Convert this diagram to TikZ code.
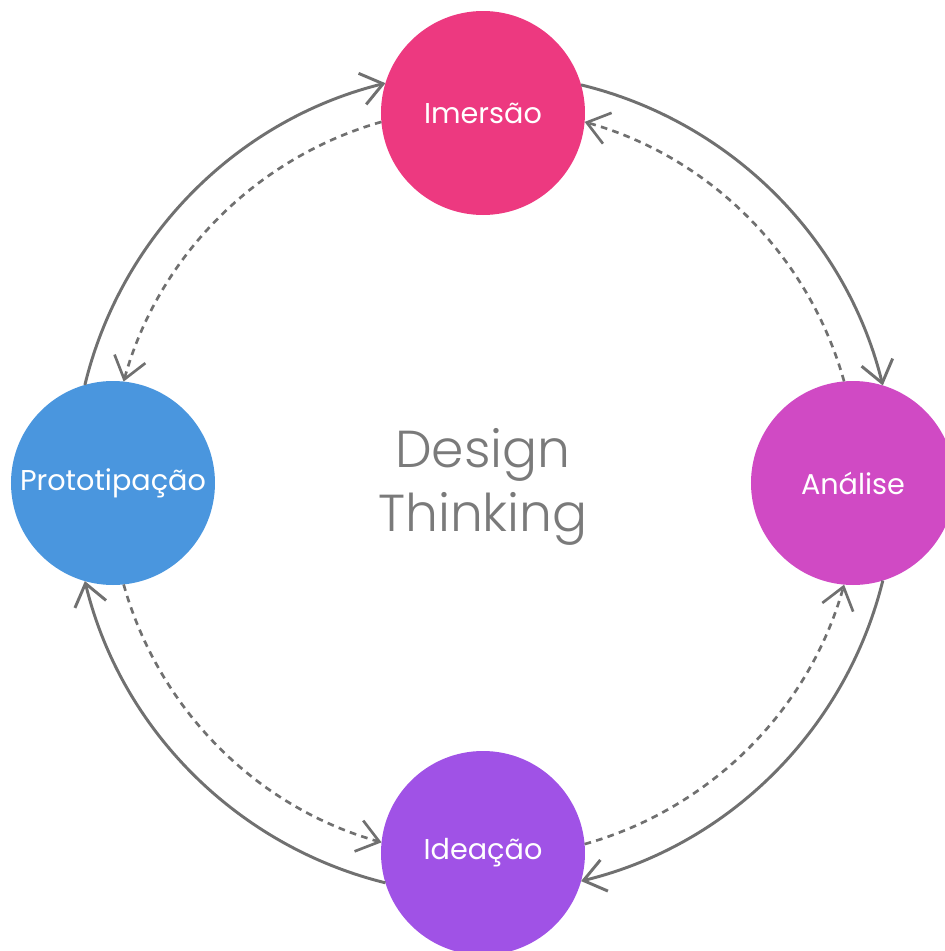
\documentclass[tikz,border=0pt]{standalone}
\usepackage{fontspec}
\setmainfont{Poppins}
\newfontfamily\thinfont{Poppins Light}
\usetikzlibrary{arrows.meta}

\definecolor{imcol}{HTML}{ED3980}
\definecolor{ancol}{HTML}{D04AC4}
\definecolor{idcol}{HTML}{A052E6}
\definecolor{prcol}{HTML}{4A96DE}
\definecolor{linecol}{HTML}{707070}
\definecolor{titlecol}{HTML}{7A7A7A}

\begin{document}
\begin{tikzpicture}[x=0.75pt,y=0.75pt,
  phase/.style={circle,fill=#1,draw=none,minimum size=153pt,inner sep=0pt,outer sep=0pt,
    text=white,font=\fontsize{21.5}{26}\selectfont},
  forward/.style={draw=linecol,line width=2.2pt,
    -{Straight Barb[length=16pt,width=24pt,line width=2.2pt]}},
  backward/.style={draw=linecol,line width=2pt,dash pattern=on 5pt off 4pt,
    -{Straight Barb[length=16pt,width=24pt,line width=2pt]}},
  title/.style={text=titlecol,align=center,font=\thinfont\fontsize{39}{48}\selectfont}
]
  % page frame
  \useasboundingbox (-483,-468) rectangle (462,483);
  \clip (-483,-468) rectangle (462,483);

  % the four phases of the cycle
  \node[phase=imcol] (imm) at (0,370) {Imersão};
  \node[phase=ancol] (ana) at (370,0) {Análise};
  \node[phase=idcol] (ide) at (0,-370) {Ideação};
  \node[phase=prcol] (pro) at (-370,0) {Prototipação};

  \node[title] (dt) at (0,-4) {Design\\Thinking};

  % clockwise flow (outer arcs)
  \draw[forward] (imm.16.6)   to[bend left=31.25,looseness=0.92] (ana.73.4);
  \draw[forward] (ana.-73.4)  to[bend left=31.25,looseness=0.92] (ide.-16.6);
  \draw[forward] (ide.-163.4) to[bend left=31.25,looseness=0.92] (pro.-106.6);
  \draw[forward] (pro.106.6)  to[bend left=31.25,looseness=0.92] (imm.163.4);

  % counter-clockwise feedback (inner dashed arcs)
  \draw[backward] (ana.95.1)  to[bend right=29.3,looseness=0.91] (imm.-5.1);
  \draw[backward] (ide.5.1)   to[bend right=29.3,looseness=0.91] (ana.-95.1);
  \draw[backward] (pro.-84.9) to[bend right=29.3,looseness=0.91] (ide.174.9);
  \draw[backward] (imm.185.1) to[bend right=29.3,looseness=0.91] (pro.84.9);
\end{tikzpicture}
\end{document}
